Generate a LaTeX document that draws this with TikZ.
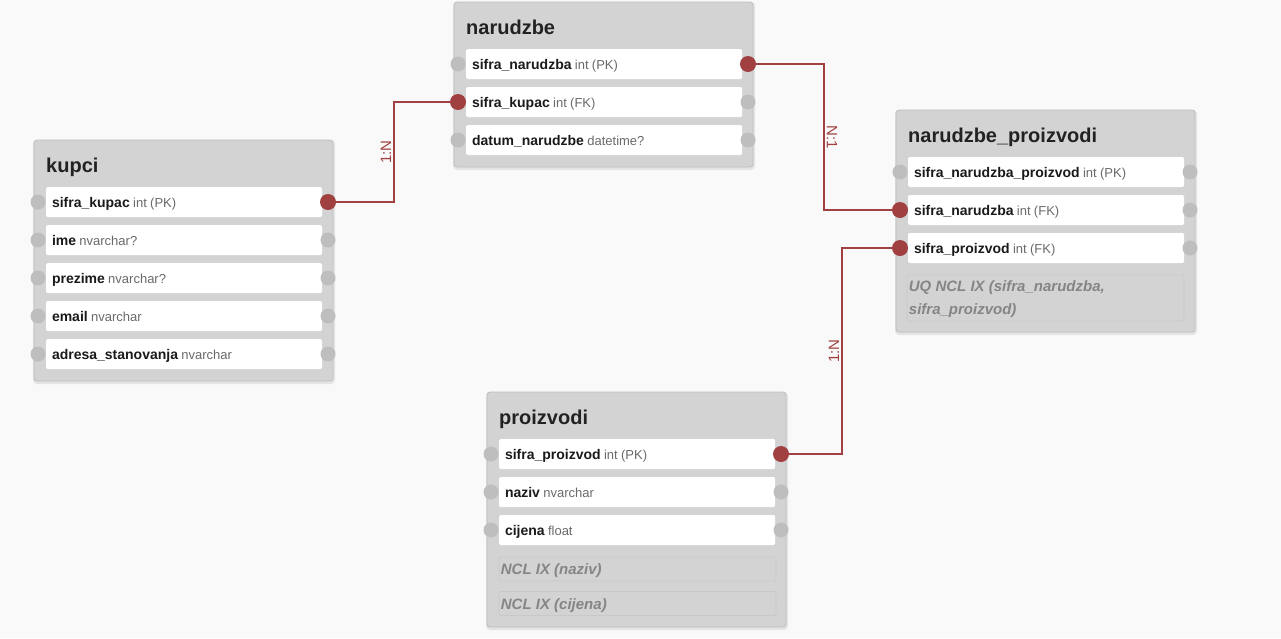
\documentclass[tikz,border=0pt]{standalone}
\usepackage{fontspec}
\setmainfont{Liberation Sans}
\usetikzlibrary{calc}
\definecolor{bgc}{HTML}{F9F9F9}
\definecolor{tfill}{HTML}{D3D3D3}
\definecolor{tborder}{HTML}{BDBDBD}
\definecolor{dotgray}{HTML}{BEBEBE}
\definecolor{relred}{HTML}{A04040}
\definecolor{titlec}{HTML}{222222}
\definecolor{namec}{HTML}{1A1A1A}
\definecolor{typec}{HTML}{6A6A6A}
\definecolor{idxc}{HTML}{858585}
\definecolor{idxborder}{HTML}{C8C8C8}
\definecolor{shadowc}{HTML}{E4E4E4}
\pgfdeclarelayer{bg}
\pgfsetlayers{bg,main}
\newcommand{\namefnt}{\fontsize{14}{16}\selectfont\bfseries\color{namec}}
\newcommand{\typefnt}{\fontsize{13}{16}\selectfont\mdseries\color{typec}}
% #1 name, #2 table left, #3 centre y, #4 field, #5 type, #6 left dot style, #7 right dot style
\newcommand{\erow}[7]{%
  \node[rowbox] (#1) at ({#2+150},{#3}) {\namefnt #4 \typefnt #5};
  \node[#6] (#1-l) at ({#2+4},{#3}) {};
  \node[#7] (#1-r) at ({#2+294},{#3}) {};
}
% #1 name, #2 left, #3 top, #4 height, #5 title
\newcommand{\etable}[5]{%
  \node[tablebox, minimum height=#4] (#1) at ({#2+149.5},{#3+#4/2}) {};
  \node[titletext] (#1-t) at ({#2+12},{#3+32}) {#5};
}
\begin{document}
\begin{tikzpicture}[x=1pt,y=-1pt,
  tablebox/.style={draw=tborder, fill=tfill, rounded corners=3pt, line width=0.8pt, minimum width=299pt, inner sep=0pt},
  titletext/.style={anchor=base west, inner sep=0pt, font=\fontsize{20}{24}\selectfont\bfseries, text=titlec},
  rowbox/.style={fill=white, rounded corners=1.5pt, minimum width=276pt, minimum height=30pt, text width=264pt, inner xsep=6pt, inner ysep=0pt, text height=10pt, text depth=0pt, align=left},
  gdot/.style={circle, fill=dotgray, minimum size=15pt, inner sep=0pt},
  rdot/.style={circle, fill=relred, minimum size=16pt, inner sep=0pt},
  idxbox/.style={fill=tfill, draw=idxborder, line width=0.6pt, rounded corners=2pt, inner sep=0pt},
  idxtext/.style={anchor=base west, inner sep=0pt, font=\fontsize{15}{23}\selectfont\bfseries\itshape, text=idxc},
  conn/.style={draw=relred, line width=1.6pt},
  lbl/.style={text=relred, font=\fontsize{15}{17}\selectfont, inner sep=2pt}
]
\begin{pgfonlayer}{bg}
\fill[bgc] (0,0) rectangle (1281,638);
\fill[shadowc, rounded corners=4pt] (33,140) rectangle (335,384);
\fill[shadowc, rounded corners=4pt] (453,2) rectangle (755,170);
\fill[shadowc, rounded corners=4pt] (895,110) rectangle (1197,335);
\fill[shadowc, rounded corners=4pt] (486,392) rectangle (788,630);
\end{pgfonlayer}
\useasboundingbox (0,0) rectangle (1281,638);

% kupci
\etable{kupci}{34}{140}{241}{kupci}
\erow{kupci1}{34}{202}{sifra\_kupac}{int (PK)}{gdot}{rdot}
\erow{kupci2}{34}{240}{ime}{nvarchar?}{gdot}{gdot}
\erow{kupci3}{34}{278}{prezime}{nvarchar?}{gdot}{gdot}
\erow{kupci4}{34}{316}{email}{nvarchar}{gdot}{gdot}
\erow{kupci5}{34}{354}{adresa\_stanovanja}{nvarchar}{gdot}{gdot}

% narudzbe
\etable{narudzbe}{454}{2}{165}{narudzbe}
\erow{nar1}{454}{64}{sifra\_narudzba}{int (PK)}{gdot}{rdot}
\erow{nar2}{454}{102}{sifra\_kupac}{int (FK)}{rdot}{gdot}
\erow{nar3}{454}{140}{datum\_narudzbe}{datetime?}{gdot}{gdot}

% narudzbe_proizvodi
\etable{np}{896}{110}{222}{narudzbe\_proizvodi}
\erow{np1}{896}{172}{sifra\_narudzba\_proizvod}{int (PK)}{gdot}{gdot}
\erow{np2}{896}{210}{sifra\_narudzba}{int (FK)}{rdot}{gdot}
\erow{np3}{896}{248}{sifra\_proizvod}{int (FK)}{rdot}{gdot}
\node[idxbox, minimum width=277pt, minimum height=46pt] (npidx) at (1045.5,298) {};
\node[idxtext] (npidx-t1) at ($(npidx.north west)+(2,17)$) {UQ NCL IX (sifra\_narudzba,};
\node[idxtext] (npidx-t2) at ($(npidx.north west)+(2,40)$) {sifra\_proizvod)};

% proizvodi
\etable{proizvodi}{487}{392}{235}{proizvodi}
\erow{pr1}{487}{454}{sifra\_proizvod}{int (PK)}{gdot}{rdot}
\erow{pr2}{487}{492}{naziv}{nvarchar}{gdot}{gdot}
\erow{pr3}{487}{530}{cijena}{float}{gdot}{gdot}
\node[idxbox, minimum width=277pt, minimum height=24pt] (pridx1) at (637.5,569) {};
\node[idxtext] (pridx1-t) at ($(pridx1.north west)+(2,18)$) {NCL IX (naziv)};
\node[idxbox, minimum width=277pt, minimum height=24pt] (pridx2) at (637.5,603.5) {};
\node[idxtext] (pridx2-t) at ($(pridx2.north west)+(2,18)$) {NCL IX (cijena)};

% connectors
\coordinate (c1) at (394,0);
\coordinate (c2) at (824,0);
\coordinate (c3) at (842,0);
\begin{pgfonlayer}{bg}
\draw[conn] (kupci1-r.center) -- (kupci1-r.center -| c1)
  -- node[lbl, midway, rotate=90, anchor=south] (l1) {1:N} (nar2-l.center -| c1)
  -- (nar2-l.center);
\draw[conn] (nar1-r.center) -- (nar1-r.center -| c2)
  -- node[lbl, midway, rotate=-90, anchor=south] (l2) {N:1} (np2-l.center -| c2)
  -- (np2-l.center);
\draw[conn] (pr1-r.center) -- (pr1-r.center -| c3)
  -- node[lbl, midway, rotate=90, anchor=south] (l3) {1:N} (np3-l.center -| c3)
  -- (np3-l.center);
\end{pgfonlayer}
\end{tikzpicture}
\end{document}
